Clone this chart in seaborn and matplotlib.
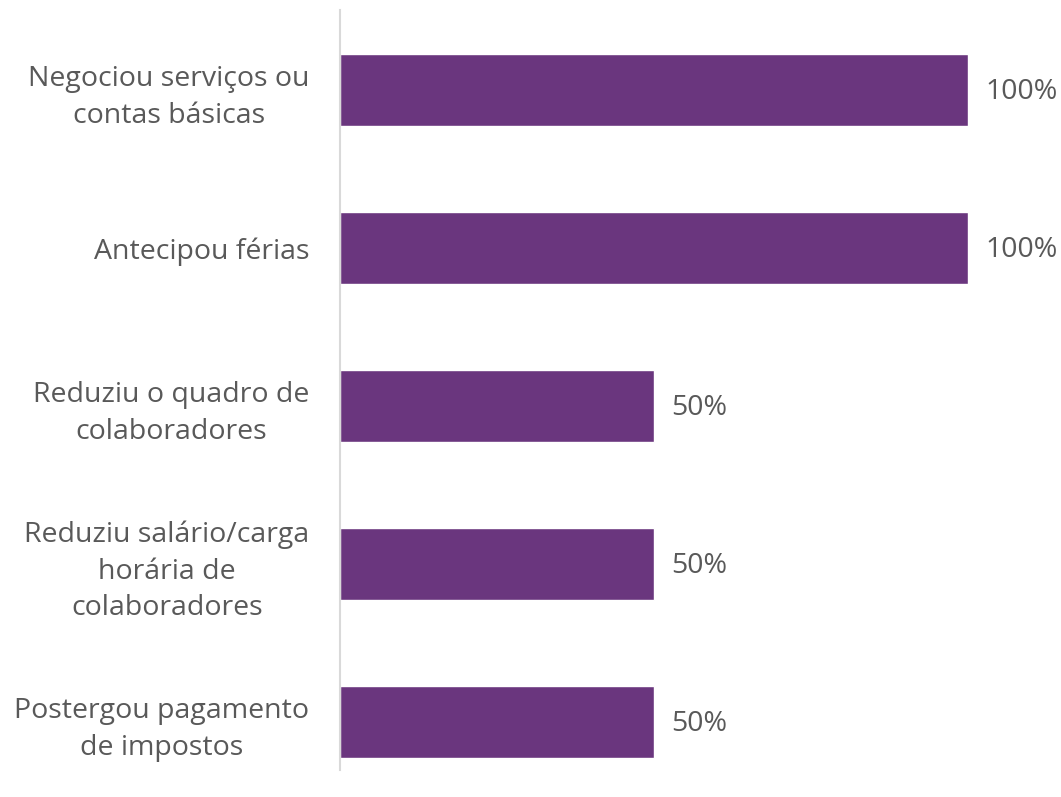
import matplotlib
matplotlib.use("Agg")
import matplotlib.pyplot as plt
import seaborn as sns
import pandas as pd

# dados
acoes = [
    "Negociou serviços ou\ncontas básicas",
    "Antecipou férias",
    "Reduziu o quadro de\ncolaboradores",
    "Reduziu salário/carga\nhorária de\ncolaboradores",
    "Postergou pagamento\nde impostos",
]
percentual = [100, 100, 50, 50, 50]

df = pd.DataFrame({"acao": acoes, "pct": percentual})

sns.set_style("white")
plt.rcParams["font.family"] = ["Open Sans", "DejaVu Sans"]

cor_texto = "#595959"
fig = plt.figure(figsize=(10.61, 7.97), dpi=100)
ax = fig.add_axes([0.3205, 0.034, 0.912 - 0.3205, 0.9535])

sns.barplot(data=df, x="pct", y="acao", color="#6A367E", width=0.456,
            saturation=1, ax=ax, orient="h")

ax.set_xlim(0, 100)
ax.set_ylim(4.304, -0.506)
ax.set_xlabel("")
ax.set_ylabel("")
ax.set_xticks([])

for i, v in enumerate(percentual):
    ax.text(v + 2.8, i + 0.015, f"{v}%", va="center", ha="left", fontsize=20.5,
            color=cor_texto, clip_on=False)

ax.tick_params(axis="y", length=0, pad=22, labelsize=20.5, labelcolor=cor_texto)
for lbl in ax.get_yticklabels():
    lbl.set_multialignment("center")
    lbl.set_linespacing(1.4)

for s in ["top", "right", "bottom"]:
    ax.spines[s].set_visible(False)
ax.spines["left"].set_color("#D9D9D9")
ax.spines["left"].set_linewidth(1.5)

fig.savefig("out.png", dpi=100)
